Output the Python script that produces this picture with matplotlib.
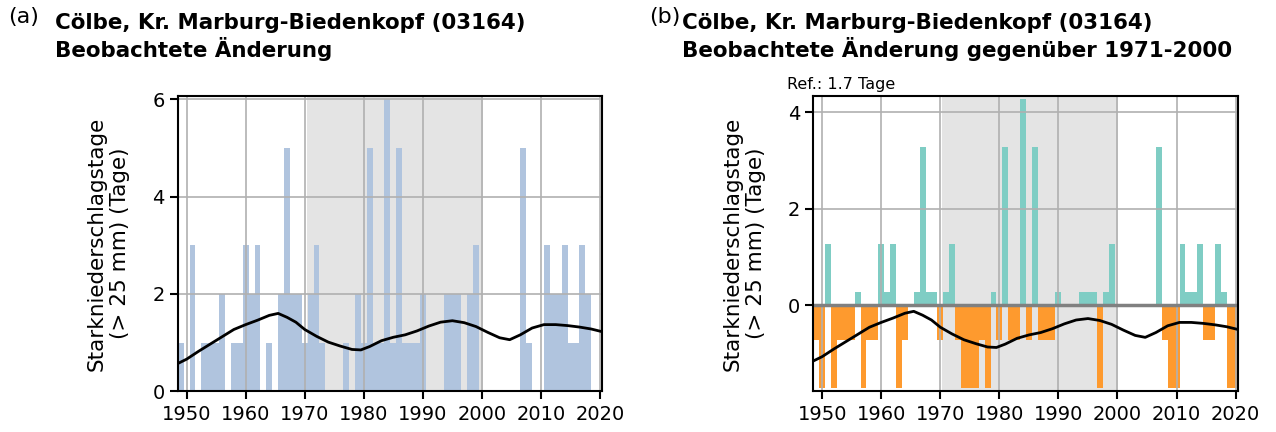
import numpy as np
import matplotlib
matplotlib.use("Agg")
import matplotlib.pyplot as plt

# heavy precipitation days (> 25 mm) per year, NaN = no data
years = list(range(1949, 2021))
days = [1, 0, 3, 0, 1, 1, 1, 2, 0, 1, 1, 3, 2, 3, 0, 1, np.nan, 2, 5, 2, 2,  # 1949-1969
        1, 2, 3, 1, 0, 0, 0, 1, 0, 2,  # 1970-1979
        1, 5, 1, 1, 6, 1, 5, 1, 1, 1,  # 1980-1989
        2, np.nan, np.nan, np.nan, 2, 2, 2, 0, 2, 3,  # 1990-1999
        np.nan, np.nan, np.nan, np.nan, np.nan, np.nan, np.nan, 5, 1, 0,  # 2000-2009
        0, 3, 2, 2, 3, 1, 1, 3, 2, 0, 0]  # 2010-2020

# smoothed curve
curve_years = [1948.5, 1950, 1952, 1954, 1956, 1958, 1960, 1962, 1964, 1965.5, 1967,
               1968.5, 1970, 1972, 1974, 1976, 1978, 1979.5, 1981, 1983, 1985, 1987,
               1989, 1991, 1993, 1995, 1997, 1999, 2001, 2003, 2004.7, 2006.5, 2008.5,
               2010.5, 2012.5, 2014.5, 2016.5, 2018.5, 2020.5]
curve_vals = [0.57, 0.66, 0.82, 0.97, 1.12, 1.27, 1.37, 1.46, 1.56, 1.60, 1.52,
              1.42, 1.27, 1.13, 1.01, 0.93, 0.86, 0.85, 0.92, 1.04, 1.11, 1.16,
              1.24, 1.34, 1.42, 1.45, 1.41, 1.33, 1.21, 1.10, 1.06, 1.16, 1.30,
              1.37, 1.37, 1.35, 1.32, 1.28, 1.22]

title1 = "Cölbe, Kr. Marburg-Biedenkopf (03164)\nBeobachtete Änderung"
title2 = "Cölbe, Kr. Marburg-Biedenkopf (03164)\nBeobachtete Änderung gegenüber 1971-2000"
ylab = "Starkniederschlagstage\n(> 25 mm) (Tage)"

yrs = np.array(years, dtype=float)
vals = np.array(days, dtype=float)
ok = ~np.isnan(vals)
ref_mask = ok & (yrs >= 1971) & (yrs <= 2000)
ref = vals[ref_mask].mean()
anom = vals - ref

fs = 14
fig = plt.figure(figsize=(12.76, 4.32), dpi=100)
ax1 = fig.add_axes([0.1393, 0.0942, 0.3328, 0.684])
ax2 = fig.add_axes([0.6374, 0.0942, 0.3328, 0.684])

for ax in (ax1, ax2):
    ax.axvspan(1970.3, 2000.1, color="lightgray", alpha=0.6, lw=0)
    ax.grid(True, color="#b0b0b0", lw=1.2)
    ax.set_xlim(1948.5, 2020.4)
    ax.set_xticks(range(1950, 2021, 10))
    ax.tick_params(labelsize=fs, length=6, width=1.5)
    ax.set_ylabel(ylab, fontsize=15.5, labelpad=16)
    for s in ax.spines.values():
        s.set_linewidth(1.5)

ax1.bar(yrs[ok], vals[ok], width=1, color="#b0c4de")
ax1.plot(curve_years, curve_vals, color="black", lw=2)
ax1.set_ylim(0, 6.07)
ax1.set_yticks([0, 2, 4, 6])

pos = ok & (anom > 0)
neg = ok & (anom < 0)
ax2.bar(yrs[pos], anom[pos], width=1, color="#7fcdc4")
ax2.bar(yrs[neg], anom[neg], width=1, color="#fe9a2e")
ax2.axhline(0, color="#808080", lw=2.5)
ax2.plot(curve_years, np.array(curve_vals) - ref, color="black", lw=2)
ax2.set_ylim(-1.79, 4.34)
ax2.set_yticks([0, 2, 4])
ax2.text(-0.063, 1.012, "Ref.: %.1f Tage" % ref, transform=ax2.transAxes,
         fontsize=11.5, va="bottom", ha="left")

fig.text(8 / 1276, 1 - 7 / 432, "(a)", fontsize=16, va="top")
fig.text(55 / 1276, 1 - 13 / 432, title1, fontsize=15.4, fontweight="bold", va="top")
fig.text(649 / 1276, 1 - 7 / 432, "(b)", fontsize=16, va="top")
fig.text(682 / 1276, 1 - 13 / 432, title2, fontsize=15.4, fontweight="bold", va="top")

fig.savefig("out.png", dpi=100)
